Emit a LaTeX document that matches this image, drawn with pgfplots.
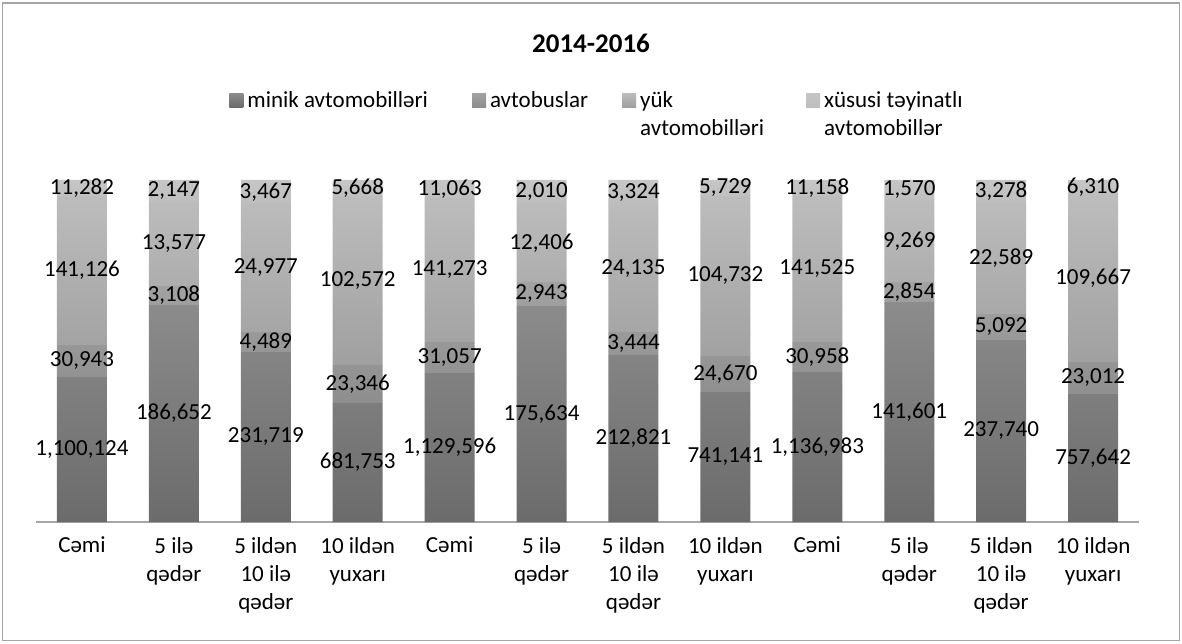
\documentclass[border=0pt]{standalone}
\usepackage{fontspec}
\setmainfont{Carlito}
\usepackage{pgfplots}
\usepackage{pgfplotstable}
\pgfplotsset{compat=1.18}

% segment heights (bar height = 342), labels as printed
\pgfplotstableread{
x minik avt yuk xus lm la ly lx
0 145 32 149 16 1,100,124 30,943 141,126 11,282
1 217 19 84 22 186,652 3,108 13,577 2,147
2 170 20 128 24 231,719 4,489 24,977 3,467
3 119 38 169 16 681,753 23,346 102,572 5,668
4 149 31 144 18 1,129,596 31,057 141,273 11,063
5 216 24 78 24 175,634 2,943 12,406 2,010
6 167 23 126 26 212,821 3,444 24,135 3,324
7 130 36 160 16 741,141 24,670 104,732 5,729
8 150 30 146 16 1,136,983 30,958 141,525 11,158
9 220 20 82 20 141,601 2,854 9,269 1,570
10 182 26 112 22 237,740 5,092 22,589 3,278
11 128 32 168 14 757,642 23,012 109,667 6,310
}\data

\definecolor{mB}{HTML}{6B6B6B}\definecolor{mT}{HTML}{8C8C8C}
\definecolor{aB}{HTML}{8E8E8E}\definecolor{aT}{HTML}{A2A2A2}
\definecolor{yB}{HTML}{A0A0A0}\definecolor{yT}{HTML}{BDBDBD}
\definecolor{xB}{HTML}{BDBDBD}\definecolor{xT}{HTML}{C6C6C6}
\definecolor{frame}{HTML}{A6A6A6}

\begin{document}
\begin{tikzpicture}[font=\fontsize{11.5}{14}\selectfont]
\path[use as bounding box] (-18pt,-60.5pt) rectangle (573pt,261pt);
\draw[frame, line width=0.6pt] (-16.8pt,-59.3pt) rectangle (571.8pt,259.5pt);
\begin{axis}[
  at={(0,0)}, anchor=south west,
  x=45.96pt, y=0.5pt,
  xmin=-0.5, xmax=11.5, ymin=0, ymax=342,
  ybar stacked, bar width=25pt,
  axis x line*=bottom, hide y axis,
  x axis line style={draw=frame, line width=0.6pt},
  xtick={0,...,11},
  xticklabels={Cəmi,{5 ilə\\qədər},{5 ildən\\10 ilə\\qədər},{10 ildən\\yuxarı},
               Cəmi,{5 ilə\\qədər},{5 ildən\\10 ilə\\qədər},{10 ildən\\yuxarı},
               Cəmi,{5 ilə\\qədər},{5 ildən\\10 ilə\\qədər},{10 ildən\\yuxarı}},
  xticklabel style={align=center, yshift=-4pt},
  major tick length=0pt,
  nodes near coords,
  point meta=explicit symbolic,
  every node near coord/.append style={anchor=center, text=black, inner sep=0pt},
  title={\fontsize{13.5}{16}\selectfont\bfseries 2014-2016},
  title style={at={(0.5,1)}, anchor=base, yshift=57.5pt, xshift=1.75pt},
  legend columns=4,
  legend style={at={(0.175,1.273)}, anchor=north west, draw=none, fill=none,
    inner sep=0pt, cells={align=left, anchor=north west, inner sep=1pt},
    /tikz/column 2/.style={column sep=20pt},
    /tikz/column 4/.style={column sep=15pt},
    /tikz/column 6/.style={column sep=19pt}},
  legend image code/.code={\path[#1, draw=none] (0pt,-10pt) rectangle (7pt,-3pt);},
]
\addplot[draw=none, top color=mT, bottom color=mB]
  table[x=x, y=minik, meta=lm] {\data};
\addlegendentry{minik avtomobilləri}
\addplot[draw=none, top color=aT, bottom color=aB]
  table[x=x, y=avt, meta=la] {\data};
\addlegendentry{avtobuslar}
\addplot[draw=none, top color=yT, bottom color=yB]
  table[x=x, y=yuk, meta=ly] {\data};
\addlegendentry{yük\\avtomobilləri}
\addplot[draw=none, top color=xT, bottom color=xB]
  table[x=x, y=xus, meta=lx] {\data};
\addlegendentry{xüsusi təyinatlı\\avtomobillər}
\end{axis}
\end{tikzpicture}
\end{document}
